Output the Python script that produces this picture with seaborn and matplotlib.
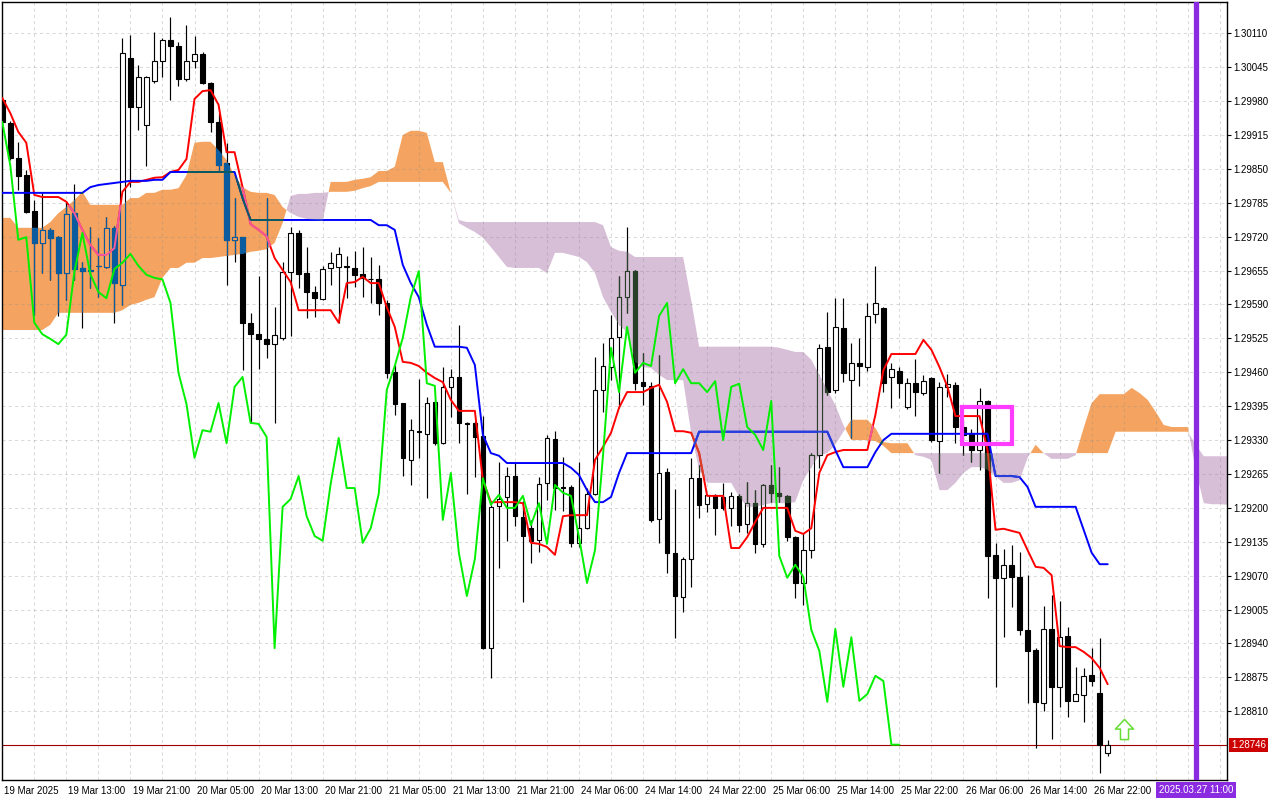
import numpy as np
import matplotlib
matplotlib.use("Agg")
import matplotlib.pyplot as plt
import seaborn as sns
from matplotlib.path import Path
from matplotlib.patches import PathPatch, Rectangle
from matplotlib.transforms import ScaledTranslation, blended_transform_factory

# ---------------- data (GBPUSD H1, 19 Mar 05:00 -> 27 Mar 00:00) ----------------
open_ = [1.29982, 1.29938, 1.29871, 1.29838, 1.29769, 1.29708, 1.29733, 1.29719, 1.29650, 1.29765,
         1.29660, 1.29656, 1.29664, 1.29662, 1.29737, 1.29627, 1.30063, 1.29969, 1.29934, 1.30019,
         1.30057, 1.30097, 1.30086, 1.30022, 1.30057, 1.30070, 1.30015, 1.29940, 1.29861, 1.29714,
         1.29719, 1.29555, 1.29533, 1.29524, 1.29514, 1.29526, 1.29652, 1.29727, 1.29650, 1.29614,
         1.29600, 1.29660, 1.29662, 1.29662, 1.29660, 1.29648, 1.29639, 1.29639, 1.29593, 1.29461,
         1.29401, 1.29292, 1.29347, 1.29342, 1.29403, 1.29324, 1.29432, 1.29451, 1.29363, 1.29363,
         1.29338, 1.28931, 1.29204, 1.29221, 1.29261, 1.29183, 1.29161, 1.29138, 1.29248, 1.29332,
         1.29240, 1.29240, 1.29133, 1.29161, 1.29227, 1.29426, 1.29470, 1.29528, 1.29604, 1.29654,
         1.29441, 1.29434, 1.29179, 1.29269, 1.29114, 1.29029, 1.29102, 1.29257, 1.29207, 1.29225,
         1.29221, 1.29200, 1.29223, 1.29169, 1.29209, 1.29131, 1.29244, 1.29229, 1.29223, 1.29144,
         1.29056, 1.29119, 1.29301, 1.29509, 1.29426, 1.29545, 1.29445, 1.29478, 1.29470, 1.29572,
         1.29583, 1.29451, 1.29462, 1.29393, 1.29439, 1.29420, 1.29449, 1.29328, 1.29432, 1.29436,
         1.29355, 1.29344, 1.29311, 1.29405, 1.29110, 1.29066, 1.29091, 1.29068, 1.28966, 1.28928,
         1.28826, 1.28968, 1.28857, 1.28954, 1.28830, 1.28841, 1.28880, 1.28845, 1.28730]
high_ = [1.29988, 1.29942, 1.29902, 1.29848, 1.29790, 1.29804, 1.29737, 1.29721, 1.29787, 1.29821,
         1.29671, 1.29739, 1.29718, 1.29758, 1.29741, 1.30101, 1.30107, 1.30049, 1.30028, 1.30112,
         1.30101, 1.30141, 1.30093, 1.30126, 1.30105, 1.30074, 1.30017, 1.29957, 1.29900, 1.29794,
         1.29720, 1.29574, 1.29645, 1.29794, 1.29585, 1.29671, 1.29739, 1.29733, 1.29700, 1.29625,
         1.29664, 1.29691, 1.29700, 1.29683, 1.29693, 1.29700, 1.29681, 1.29666, 1.29599, 1.29474,
         1.29402, 1.29370, 1.29447, 1.29413, 1.29404, 1.29470, 1.29466, 1.29551, 1.29365, 1.29367,
         1.29376, 1.29206, 1.29288, 1.29278, 1.29286, 1.29213, 1.29177, 1.29259, 1.29340, 1.29347,
         1.29298, 1.29244, 1.29288, 1.29238, 1.29489, 1.29516, 1.29570, 1.29645, 1.29739, 1.29656,
         1.29497, 1.29441, 1.29493, 1.29277, 1.29236, 1.29106, 1.29296, 1.29282, 1.29227, 1.29227,
         1.29248, 1.29230, 1.29227, 1.29250, 1.29234, 1.29246, 1.29282, 1.29278, 1.29225, 1.29146,
         1.29152, 1.29305, 1.29514, 1.29576, 1.29602, 1.29602, 1.29516, 1.29526, 1.29593, 1.29664,
         1.29585, 1.29478, 1.29470, 1.29449, 1.29485, 1.29455, 1.29451, 1.29441, 1.29457, 1.29441,
         1.29369, 1.29351, 1.29430, 1.29407, 1.29133, 1.29121, 1.29129, 1.29115, 1.29071, 1.28931,
         1.29012, 1.29033, 1.29021, 1.28972, 1.28895, 1.28893, 1.28931, 1.28951, 1.28755]
low_ = [1.29934, 1.29867, 1.29810, 1.29765, 1.29570, 1.29650, 1.29637, 1.29568, 1.29599, 1.29637,
        1.29545, 1.29622, 1.29604, 1.29660, 1.29555, 1.29589, 1.29815, 1.29925, 1.29856, 1.30015,
        1.30026, 1.29982, 1.30009, 1.30019, 1.30043, 1.30013, 1.29921, 1.29844, 1.29627, 1.29671,
        1.29464, 1.29363, 1.29466, 1.29487, 1.29363, 1.29522, 1.29530, 1.29622, 1.29564, 1.29566,
        1.29599, 1.29627, 1.29555, 1.29602, 1.29624, 1.29604, 1.29593, 1.29570, 1.29449, 1.29378,
        1.29261, 1.29244, 1.29296, 1.29219, 1.29321, 1.29322, 1.29374, 1.29324, 1.29227, 1.29259,
        1.28930, 1.28874, 1.29085, 1.29137, 1.29165, 1.29020, 1.29094, 1.29115, 1.29215, 1.29196,
        1.29194, 1.29125, 1.29125, 1.29160, 1.29225, 1.29384, 1.29445, 1.29392, 1.29574, 1.29426,
        1.29397, 1.29173, 1.29133, 1.29075, 1.28951, 1.29000, 1.29048, 1.29181, 1.29192, 1.29148,
        1.29196, 1.29165, 1.29154, 1.29152, 1.29114, 1.29125, 1.29211, 1.29211, 1.29137, 1.29027,
        1.29014, 1.29104, 1.29277, 1.29416, 1.29420, 1.29441, 1.29334, 1.29434, 1.29462, 1.29555,
        1.29422, 1.29392, 1.29411, 1.29390, 1.29376, 1.29416, 1.29326, 1.29267, 1.29413, 1.29324,
        1.29301, 1.29288, 1.29273, 1.29027, 1.28857, 1.28952, 1.29010, 1.28956, 1.28826, 1.28740,
        1.28811, 1.28757, 1.28818, 1.28799, 1.28829, 1.28789, 1.28859, 1.28692, 1.28724]
close_ = [1.29940, 1.29871, 1.29836, 1.29767, 1.29708, 1.29733, 1.29718, 1.29650, 1.29764, 1.29658,
          1.29654, 1.29654, 1.29663, 1.29737, 1.29631, 1.30072, 1.29969, 1.30026, 1.30026, 1.30057,
          1.30097, 1.30086, 1.30022, 1.30057, 1.30070, 1.30015, 1.29940, 1.29857, 1.29714, 1.29719,
          1.29555, 1.29533, 1.29524, 1.29514, 1.29532, 1.29652, 1.29727, 1.29648, 1.29614, 1.29602,
          1.29658, 1.29670, 1.29687, 1.29664, 1.29647, 1.29641, 1.29638, 1.29593, 1.29459, 1.29399,
          1.29296, 1.29349, 1.29346, 1.29401, 1.29324, 1.29432, 1.29451, 1.29363, 1.29361, 1.29336,
          1.28931, 1.29202, 1.29217, 1.29261, 1.29184, 1.29146, 1.29137, 1.29246, 1.29334, 1.29238,
          1.29238, 1.29133, 1.29161, 1.29227, 1.29426, 1.29472, 1.29526, 1.29604, 1.29654, 1.29439,
          1.29434, 1.29177, 1.29267, 1.29114, 1.29031, 1.29102, 1.29257, 1.29206, 1.29225, 1.29200,
          1.29200, 1.29223, 1.29167, 1.29209, 1.29131, 1.29244, 1.29229, 1.29223, 1.29144, 1.29056,
          1.29119, 1.29301, 1.29507, 1.29422, 1.29547, 1.29459, 1.29478, 1.29472, 1.29568, 1.29593,
          1.29439, 1.29466, 1.29439, 1.29439, 1.29422, 1.29443, 1.29330, 1.29432, 1.29438, 1.29355,
          1.29340, 1.29311, 1.29405, 1.29108, 1.29066, 1.29091, 1.29068, 1.28966, 1.28926, 1.28828,
          1.28968, 1.28857, 1.28952, 1.28830, 1.28843, 1.28878, 1.28868, 1.28746, 1.28746]

tenkan = [1.29986, 1.29957, 1.29921, 1.29900, 1.29800, 1.29796, 1.29796, 1.29796, 1.29787, 1.29765,
          1.29733, 1.29704, 1.29685, 1.29685, 1.29698, 1.29806, 1.29825, 1.29825, 1.29829, 1.29833,
          1.29834, 1.29844, 1.29848, 1.29869, 1.29984, 1.29999, 1.30001, 1.29973, 1.29882, 1.29882,
          1.29815, 1.29744, 1.29733, 1.29721, 1.29679, 1.29656, 1.29633, 1.29579, 1.29579, 1.29579,
          1.29579, 1.29579, 1.29555, 1.29631, 1.29633, 1.29643, 1.29631, 1.29631, 1.29585, 1.29547,
          1.29480, 1.29478, 1.29472, 1.29459, 1.29449, 1.29441, 1.29407, 1.29386, 1.29386, 1.29386,
          1.29253, 1.29211, 1.29211, 1.29211, 1.29211, 1.29209, 1.29133, 1.29131, 1.29125, 1.29110,
          1.29184, 1.29186, 1.29186, 1.29186, 1.29292, 1.29317, 1.29344, 1.29392, 1.29422, 1.29422,
          1.29422, 1.29430, 1.29436, 1.29403, 1.29347, 1.29347, 1.29344, 1.29305, 1.29223, 1.29223,
          1.29223, 1.29123, 1.29123, 1.29144, 1.29173, 1.29200, 1.29200, 1.29200, 1.29200, 1.29156,
          1.29150, 1.29161, 1.29267, 1.29301, 1.29307, 1.29311, 1.29311, 1.29311, 1.29311, 1.29378,
          1.29464, 1.29495, 1.29495, 1.29495, 1.29495, 1.29522, 1.29503, 1.29470, 1.29432, 1.29376,
          1.29376, 1.29376, 1.29376, 1.29311, 1.29158, 1.29160, 1.29156, 1.29152, 1.29119, 1.29087,
          1.29085, 1.29071, 1.28935, 1.28933, 1.28933, 1.28924, 1.28912, 1.28893, 1.28862]
kijun = [1.29804, 1.29804, 1.29804, 1.29804, 1.29804, 1.29804, 1.29804, 1.29804, 1.29804, 1.29804,
         1.29804, 1.29815, 1.29819, 1.29821, 1.29823, 1.29825, 1.29827, 1.29827, 1.29827, 1.29829,
         1.29829, 1.29844, 1.29844, 1.29844, 1.29844, 1.29844, 1.29844, 1.29844, 1.29844, 1.29844,
         1.29794, 1.29752, 1.29752, 1.29752, 1.29752, 1.29752, 1.29752, 1.29752, 1.29752, 1.29752,
         1.29752, 1.29752, 1.29752, 1.29752, 1.29752, 1.29752, 1.29752, 1.29742, 1.29742, 1.29733,
         1.29666, 1.29631, 1.29604, 1.29551, 1.29509, 1.29509, 1.29509, 1.29509, 1.29507, 1.29474,
         1.29340, 1.29305, 1.29300, 1.29286, 1.29286, 1.29286, 1.29286, 1.29286, 1.29286, 1.29286,
         1.29286, 1.29277, 1.29263, 1.29234, 1.29211, 1.29211, 1.29221, 1.29267, 1.29305, 1.29305,
         1.29305, 1.29305, 1.29305, 1.29305, 1.29305, 1.29305, 1.29305, 1.29346, 1.29346, 1.29346,
         1.29346, 1.29346, 1.29346, 1.29346, 1.29346, 1.29346, 1.29346, 1.29346, 1.29346, 1.29346,
         1.29346, 1.29346, 1.29346, 1.29346, 1.29311, 1.29278, 1.29278, 1.29278, 1.29278, 1.29307,
         1.29330, 1.29342, 1.29342, 1.29342, 1.29342, 1.29342, 1.29342, 1.29342, 1.29342, 1.29342,
         1.29342, 1.29342, 1.29342, 1.29342, 1.29261, 1.29261, 1.29261, 1.29259, 1.29240, 1.29202,
         1.29202, 1.29202, 1.29202, 1.29202, 1.29202, 1.29158, 1.29114, 1.29092, 1.29092]

# Senkou spans (already shifted 26 bars forward, bar 0 .. 153)
span_a = [1.29756, 1.29756, 1.29737, 1.29737, 1.29737, 1.29737, 1.29748, 1.29765, 1.29777, 1.29790,
          1.29806, 1.29781, 1.29781, 1.29781, 1.29781, 1.29781, 1.29794, 1.29794, 1.29804, 1.29804,
          1.29810, 1.29810, 1.29813, 1.29838, 1.29900, 1.29902, 1.29902, 1.29886, 1.29867, 1.29838,
          1.29815, 1.29806, 1.29804, 1.29804, 1.29800, 1.29777, 1.29765, 1.29758, 1.29754, 1.29752,
          1.29750, 1.29825, 1.29825, 1.29825, 1.29829, 1.29831, 1.29834, 1.29846, 1.29846, 1.29854,
          1.29915, 1.29923, 1.29923, 1.29919, 1.29863, 1.29863, 1.29804, 1.29746, 1.29737, 1.29729,
          1.29718, 1.29700, 1.29681, 1.29662, 1.29660, 1.29660, 1.29660, 1.29660, 1.29650, 1.29689,
          1.29689, 1.29685, 1.29681, 1.29671, 1.29650, 1.29604, 1.29576, 1.29551, 1.29537, 1.29480,
          1.29470, 1.29468, 1.29455, 1.29445, 1.29445, 1.29445, 1.29344, 1.29273, 1.29248, 1.29248,
          1.29248, 1.29248, 1.29221, 1.29202, 1.29202, 1.29206, 1.29209, 1.29209, 1.29209, 1.29211,
          1.29253, 1.29278, 1.29301, 1.29305, 1.29321, 1.29346, 1.29369, 1.29369, 1.29369, 1.29353,
          1.29326, 1.29324, 1.29324, 1.29324, 1.29301, 1.29298, 1.29292, 1.29234, 1.29234, 1.29248,
          1.29267, 1.29278, 1.29278, 1.29273, 1.29261, 1.29248, 1.29248, 1.29253, 1.29296, 1.29321,
          1.29305, 1.29294, 1.29294, 1.29294, 1.29301, 1.29353, 1.29401, 1.29418, 1.29418, 1.29418,
          1.29418, 1.29430, 1.29420, 1.29407, 1.29384, 1.29359, 1.29355, 1.29355, 1.29355, 1.29273,
          1.29209, 1.29207, 1.29207, 1.29206]
span_b = [1.29541, 1.29541, 1.29541, 1.29541, 1.29541, 1.29541, 1.29551, 1.29574, 1.29574, 1.29574,
          1.29574, 1.29574, 1.29574, 1.29574, 1.29574, 1.29579, 1.29589, 1.29593, 1.29599, 1.29604,
          1.29641, 1.29660, 1.29660, 1.29670, 1.29670, 1.29679, 1.29679, 1.29681, 1.29683, 1.29685,
          1.29687, 1.29691, 1.29693, 1.29696, 1.29708, 1.29746, 1.29798, 1.29802, 1.29802, 1.29804,
          1.29804, 1.29806, 1.29806, 1.29806, 1.29808, 1.29813, 1.29817, 1.29825, 1.29825, 1.29825,
          1.29825, 1.29825, 1.29825, 1.29825, 1.29825, 1.29825, 1.29804, 1.29752, 1.29748, 1.29748,
          1.29748, 1.29748, 1.29748, 1.29748, 1.29748, 1.29748, 1.29748, 1.29748, 1.29748, 1.29748,
          1.29748, 1.29748, 1.29748, 1.29748, 1.29748, 1.29742, 1.29700, 1.29693, 1.29691, 1.29681,
          1.29681, 1.29681, 1.29681, 1.29681, 1.29681, 1.29681, 1.29599, 1.29509, 1.29509, 1.29509,
          1.29509, 1.29509, 1.29509, 1.29509, 1.29509, 1.29509, 1.29509, 1.29507, 1.29503, 1.29499,
          1.29499, 1.29484, 1.29455, 1.29426, 1.29397, 1.29359, 1.29330, 1.29330, 1.29330, 1.29328,
          1.29319, 1.29305, 1.29305, 1.29305, 1.29305, 1.29305, 1.29305, 1.29305, 1.29305, 1.29305,
          1.29305, 1.29305, 1.29305, 1.29305, 1.29305, 1.29305, 1.29305, 1.29305, 1.29305, 1.29305,
          1.29305, 1.29305, 1.29305, 1.29305, 1.29305, 1.29305, 1.29305, 1.29305, 1.29305, 1.29346,
          1.29346, 1.29346, 1.29346, 1.29346, 1.29346, 1.29346, 1.29346, 1.29346, 1.29346, 1.29321,
          1.29299, 1.29299, 1.29299, 1.29299]

tick_bars = [0, 8, 16, 24, 32, 40, 48, 56, 64, 72, 80, 88, 96, 104, 112, 120, 128, 136]
tick_labels = ["19 Mar 2025", "19 Mar 13:00", "19 Mar 21:00", "20 Mar 05:00", "20 Mar 13:00",
               "20 Mar 21:00", "21 Mar 05:00", "21 Mar 13:00", "21 Mar 21:00", "24 Mar 06:00",
               "24 Mar 14:00", "24 Mar 22:00", "25 Mar 06:00", "25 Mar 14:00", "25 Mar 22:00",
               "26 Mar 06:00", "26 Mar 14:00", "26 Mar 22:00"]
price_ticks = [1.28810, 1.28875, 1.28940, 1.29005, 1.29070, 1.29135, 1.29200, 1.29265, 1.29330,
               1.29395, 1.29460, 1.29525, 1.29590, 1.29655, 1.29720, 1.29785, 1.29850, 1.29915,
               1.29980, 1.30045, 1.30110]
current_price = 1.28746
vline_bar = 149
vline_label = "2025.03.27 11:00"
arrow_bar, arrow_price = 140, 1.28776
box_bars = (119.76, 126.0)
box_prices = (1.29322, 1.29394)

# ---------------- styling ----------------
sns.set_theme(style="white")
plt.rcParams['font.family'] = ['Liberation Sans', 'DejaVu Sans']

SANDY, THISTLE = '#f4a460', '#d8bfd8'
INV_SANDY, INV_THISTLE = '#0b5b9f', '#274027'

fig = plt.figure(figsize=(12.8, 8), dpi=100)
ax = fig.add_axes([1.5 / 1280, 20.5 / 800, 1225.2 / 1280, 778 / 800])
ax.set_facecolor('white')

idx = np.arange(len(close_))
xc = np.arange(len(span_a))
A = np.array(span_a)
B = np.array(span_b)

orange = ax.fill_between(xc, A, B, where=A >= B, interpolate=True, color=SANDY, lw=0, zorder=1)
purple = ax.fill_between(xc, A, B, where=A < B, interpolate=True, color=THISTLE, lw=0, zorder=1)


def clip_patch(coll):
    paths = coll.get_paths()
    comp = Path.make_compound_path(*paths)
    return PathPatch(comp, transform=ax.transData, fc='none', ec='none')


clip_or = clip_patch(orange)
clip_pu = clip_patch(purple)


def draw_candles(dark, light, z, clip=None):
    o = np.array(open_)
    c = np.array(close_)
    bull = c >= o
    bottoms = np.minimum(o, c)
    heights = np.abs(c - o)
    wk = ax.vlines(idx, low_, high_, colors=dark, linewidth=0.85, zorder=z)
    faces = [light if b else dark for b in bull]
    bars = ax.bar(idx, heights, bottom=bottoms, width=0.56, color=faces,
                  edgecolor=dark, linewidth=0.8, zorder=z + 0.01)
    if clip is not None:
        wk.set_clip_path(clip)
        for p in bars.patches:
            p.set_clip_path(clip)


def draw_line(y, color, z, clip=None, x=None):
    xx = idx if x is None else x
    sns.lineplot(x=xx, y=y, color=color, linewidth=1.4, ax=ax, zorder=z, sort=False)
    ln = ax.lines[-1]
    if clip is not None:
        ln.set_clip_path(clip)


# normal drawing
draw_candles('black', 'white', 2)
draw_line(tenkan, '#ff0000', 3)
draw_line(kijun, '#0000ff', 3)

# colour inversion where the cloud is painted over the price chart (MT5 look)
draw_candles(INV_SANDY, SANDY, 4, clip_or)
draw_candles(INV_THISTLE, THISTLE, 4, clip_pu)
draw_line(tenkan, '#f45b9f', 4.5, clip_or)
draw_line(kijun, '#0b5b60', 4.5, clip_or)
draw_line(tenkan, '#d84027', 4.5, clip_pu)
draw_line(kijun, '#2740d8', 4.5, clip_pu)

# chikou span (close shifted back 26 bars)
draw_line(close_[26:], '#00f000', 5, x=idx[:len(close_) - 26])

# current price line
ax.axhline(current_price, color='#a00000', lw=0.8, zorder=1.6)

# vertical line and magenta rectangle
ax.axvline(vline_bar, color='#8a2be2', lw=3.8, zorder=6)
ax.add_patch(Rectangle((box_bars[0], box_prices[0]), box_bars[1] - box_bars[0],
                       box_prices[1] - box_prices[0], fill=False, ec='#ff3cff', lw=3, zorder=7))

# up arrow
arrow_path = Path([(-0.2, -0.5), (0.2, -0.5), (0.2, 0.02), (0.45, 0.02), (0.0, 0.5),
                   (-0.45, 0.02), (-0.2, 0.02), (-0.2, -0.5)],
                  [Path.MOVETO] + [Path.LINETO] * 6 + [Path.CLOSEPOLY])
ax.plot([arrow_bar], [arrow_price], marker=arrow_path, markersize=14.5, mfc='white',
        mec='#66dd33', mew=1.1, zorder=8, ls='none')

# axes limits
ax.set_xlim(-0.095, 152.86)
ax.set_ylim(1.286792, 1.301709)
ax.set_xlabel('')
ax.set_ylabel('')

# grid and ticks
ax.set_axisbelow('line')
ax.set_xticks(tick_bars)
ax.set_xticklabels(tick_labels)
ax.set_xticks(np.arange(0, 153, 4), minor=True)
ax.yaxis.tick_right()
ax.set_yticks(price_ticks)
ax.set_yticklabels([f'{v:.5f}' for v in price_ticks])
ax.grid(True, which='both', axis='x', color=(0.55, 0.55, 0.55), alpha=0.32,
        linestyle=(0, (3, 3)), lw=0.75)
ax.grid(True, which='major', axis='y', color=(0.55, 0.55, 0.55), alpha=0.32,
        linestyle=(0, (3, 3)), lw=0.75)
ax.tick_params(axis='x', which='major', direction='out', length=3.8, width=0.8, pad=1.2,
               labelsize=7, colors='black')
ax.tick_params(axis='x', which='minor', length=0)
ax.tick_params(axis='y', which='major', direction='out', length=3.2, width=0.8, pad=1.5,
               labelsize=7, colors='black', right=True, left=False)
for lab in ax.get_xticklabels():
    lab.set_horizontalalignment('left')
    lab.set_transform(lab.get_transform() + ScaledTranslation(1.5 / 72, 0, fig.dpi_scale_trans))

for sp in ax.spines.values():
    sp.set_visible(True)
    sp.set_color('black')
    sp.set_linewidth(1.0)

# current price label on the price scale
trans_y = blended_transform_factory(ax.transAxes, ax.transData)
ax.text(1.0035, current_price, f'{current_price:.5f}', transform=trans_y, ha='left', va='center',
        fontsize=7, color='white', clip_on=False, zorder=10,
        bbox=dict(boxstyle='square,pad=0.2', fc='#cc0000', ec='none'))

# date label of the vertical line on the time scale
trans_x = blended_transform_factory(ax.transData, ax.transAxes)
ax.text(vline_bar, -0.0135, vline_label, transform=trans_x, ha='center', va='center',
        fontsize=7, color='white', clip_on=False, zorder=10,
        bbox=dict(boxstyle='square,pad=0.3', fc='#8a2be2', ec='none'))

fig.savefig('out.png', dpi=100, facecolor='white')
